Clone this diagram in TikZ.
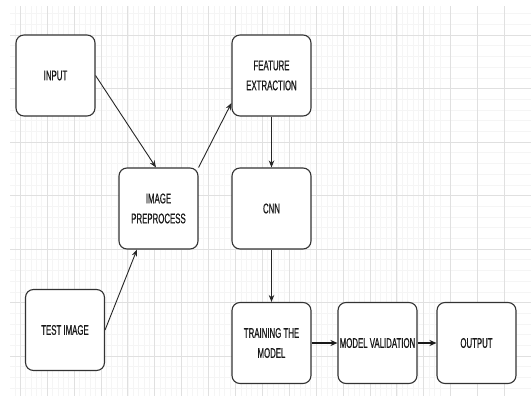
\documentclass[tikz,border=0pt]{standalone}
\usepackage{fontspec}
\newfontfamily\narrowfont[FakeStretch=0.56,FakeBold=0.6]{Liberation Sans}
\usetikzlibrary{arrows.meta,calc}
\begin{document}
\begin{tikzpicture}[x=1pt,y=-1pt,
  blk/.style={draw=black!80,line width=1.1pt,rounded corners=8pt,fill=white,
    minimum width=79pt,minimum height=81pt,align=center,
    font=\narrowfont\fontsize{14}{20}\selectfont,text=black!90,inner sep=1pt},
  conn/.style={draw=black!85,line width=0.9pt,-{Stealth[length=7pt,width=5.5pt]}},
  thick conn/.style={draw=black!90,line width=1.5pt,-{Stealth[length=7pt,width=6pt]}},
  minorgrid/.style={draw=black!4,line width=0.5pt},
  majorgrid/.style={draw=black!12,line width=0.8pt}]
\useasboundingbox (0,0) rectangle (531,396);
\fill[white] (0,0) rectangle (531,396);
% grid
\begin{scope}
\clip (10,7) rectangle (531,396);
\foreach \i in {0,...,80} {\draw[minorgrid] ({20.2+(\i-2)*5.38},0) -- ++(0,400);}
\foreach \i in {0,...,40} {\draw[minorgrid] (0,{2.9+\i*10.7}) -- ++(540,0);}
\foreach \i in {0,...,20} {\draw[majorgrid] ({20.2+(\i-1)*26.9},0) -- ++(0,400);}
\foreach \i in {0,...,8} {\draw[majorgrid] (0,{35+(\i-1)*53.5}) -- ++(540,0);}
\end{scope}
% nodes
\node[blk] (in) at (55.5,75.5) {INPUT};
\node[blk] (ip) at (158.5,208.5) {IMAGE\\PREPROCESS};
\node[blk] (fe) at (271.5,75.5) {FEATURE\\EXTRACTION};
\node[blk] (cnn) at (271.5,208.5) {CNN};
\node[blk] (ti) at (65,330) {TEST IMAGE};
\node[blk] (tm) at (271.5,343) {TRAINING THE\\MODEL};
\node[blk] (mv) at (377.5,343) {MODEL VALIDATION};
\node[blk] (out) at (476.5,343) {OUTPUT};
% connectors
\draw[conn] (in.east) -- ($(ip.north)+(-2.5,0)$);
\draw[conn] (ip.north east) -- ($(fe.west)+(0,27.5)$);
\draw[conn] (fe.south) -- (cnn.north);
\draw[conn] (ti.east) -- ($(ip.south)+(-21.5,0)$);
\draw[conn] (cnn.south) -- (tm.north);
\draw[thick conn] (tm.east) -- (mv.west);
\draw[thick conn] (mv.east) -- (out.west);
\end{tikzpicture}
\end{document}
